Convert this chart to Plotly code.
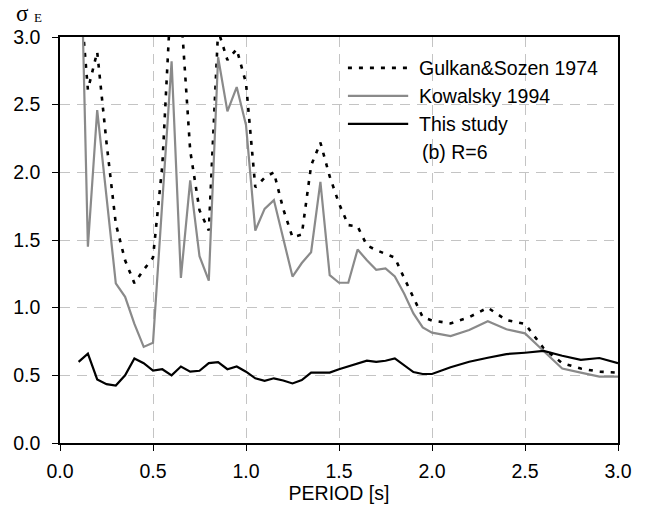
import plotly.graph_objects as go

period = [0.10, 0.15, 0.20, 0.25, 0.30, 0.35, 0.40, 0.45, 0.50, 0.55,
          0.60, 0.65, 0.70, 0.75, 0.80, 0.85, 0.90, 0.95, 1.00, 1.05,
          1.10, 1.15, 1.20, 1.25, 1.30, 1.35, 1.40, 1.45, 1.50, 1.55,
          1.60, 1.65, 1.70, 1.75, 1.80, 1.85, 1.90, 1.95, 2.00,
          2.10, 2.20, 2.30, 2.40, 2.50, 2.60, 2.70, 2.80, 2.90, 3.00]

gulkan = [3.45, 2.61, 2.89, 2.22, 1.62, 1.35, 1.18, 1.28, 1.37, 2.05,
          3.40, 3.20, 2.16, 1.72, 1.57, 3.05, 2.83, 2.91, 2.66, 1.89,
          1.96, 2.00, 1.73, 1.52, 1.54, 2.05, 2.22, 1.97, 1.77, 1.61,
          1.60, 1.46, 1.425, 1.40, 1.37, 1.22, 1.07, 0.93, 0.905,
          0.884, 0.93, 1.00, 0.908, 0.88, 0.70, 0.59, 0.55, 0.527, 0.52]

kowalsky = [4.40, 1.45, 2.46, 1.82, 1.18, 1.08, 0.88, 0.71, 0.74, 1.78,
            2.82, 1.22, 1.94, 1.38, 1.20, 2.85, 2.45, 2.63, 2.35, 1.57,
            1.73, 1.795, 1.52, 1.23, 1.33, 1.41, 1.93, 1.24, 1.184, 1.184,
            1.43, 1.35, 1.28, 1.29, 1.23, 1.105, 0.958, 0.854, 0.815,
            0.79, 0.835, 0.90, 0.84, 0.81, 0.68, 0.55, 0.52, 0.49, 0.49]

this_study = [0.60, 0.66, 0.47, 0.435, 0.425, 0.50, 0.625, 0.59, 0.535, 0.545,
              0.50, 0.565, 0.527, 0.534, 0.59, 0.598, 0.545, 0.565, 0.527, 0.478,
              0.46, 0.478, 0.462, 0.44, 0.465, 0.52, 0.52, 0.52, 0.545, 0.565,
              0.59, 0.608, 0.60, 0.608, 0.625, 0.576, 0.524, 0.51, 0.51,
              0.56, 0.60, 0.63, 0.657, 0.667, 0.68, 0.645, 0.615, 0.628, 0.59]

series_names = ["Gulkan&Sozen 1974", "Kowalsky 1994", "This study"]
x_ticks = [0.0, 0.5, 1.0, 1.5, 2.0, 2.5, 3.0]
y_ticks = [0.0, 0.5, 1.0, 1.5, 2.0, 2.5, 3.0]

FONT = "Liberation Sans, Arial, sans-serif"
SERIF = "Liberation Serif, Times New Roman, serif"
FS = 19.5
GRAY = "#8a8a8a"
DOT = "4px,7px"

fig = go.Figure()
fig.add_trace(go.Scatter(x=period, y=gulkan, mode="lines", name=series_names[0],
                         line=dict(color="black", width=2.6, dash=DOT), showlegend=False))
fig.add_trace(go.Scatter(x=period, y=kowalsky, mode="lines", name=series_names[1],
                         line=dict(color=GRAY, width=2.2), showlegend=False))
fig.add_trace(go.Scatter(x=period, y=this_study, mode="lines", name=series_names[2],
                         line=dict(color="black", width=2.2), showlegend=False))

axis_common = dict(
    showline=True, linecolor="black", linewidth=1.5, mirror=True,
    showgrid=True, gridcolor="#c4c4c4", gridwidth=1, griddash="10px,7px",
    ticks="outside", ticklen=6, tickcolor="black", tickwidth=1,
    tickfont=dict(family=FONT, size=FS, color="black"),
    tickformat=".1f", zeroline=False,
)

fig.update_xaxes(range=[0, 3], tickvals=x_ticks, ticklabelstandoff=4,
                 title=dict(text="PERIOD [s]", font=dict(family=FONT, size=FS, color="black"),
                            standoff=2),
                 **axis_common)
fig.update_yaxes(range=[0, 3], tickvals=y_ticks, ticklabelstandoff=8, **axis_common)

# legend drawn manually
leg_y = [0.924, 0.855, 0.786]
leg_styles = [dict(color="black", width=2.6, dash=DOT),
              dict(color=GRAY, width=2.2),
              dict(color="black", width=2.2)]
for name, yy, st in zip(series_names, leg_y, leg_styles):
    fig.add_shape(type="line", xref="paper", yref="paper", x0=0.516, x1=0.624,
                  y0=yy, y1=yy, line=st)
    fig.add_annotation(xref="paper", yref="paper", x=0.640, y=yy, text=name,
                       showarrow=False, xanchor="left", yanchor="middle",
                       font=dict(family=FONT, size=FS, color="black"))
fig.add_annotation(xref="paper", yref="paper", x=0.645, y=0.717, text="(b) R=6",
                   showarrow=False, xanchor="left", yanchor="middle",
                   font=dict(family=FONT, size=FS, color="black"))

# y-axis title: sigma with subscript E
fig.add_annotation(xref="paper", yref="paper", x=-0.082, y=1.059, text="σ",
                   showarrow=False, xanchor="left", yanchor="middle",
                   font=dict(family=SERIF, size=23, color="black"))
fig.add_annotation(xref="paper", yref="paper", x=-0.051, y=1.047, text="E",
                   showarrow=False, xanchor="left", yanchor="middle",
                   font=dict(family=SERIF, size=13, color="black"))

fig.update_layout(
    width=647, height=509,
    margin=dict(l=60, r=29, t=37, b=66),
    paper_bgcolor="white", plot_bgcolor="white",
    font=dict(family=FONT, color="black"),
)

fig.write_html("out.html")
